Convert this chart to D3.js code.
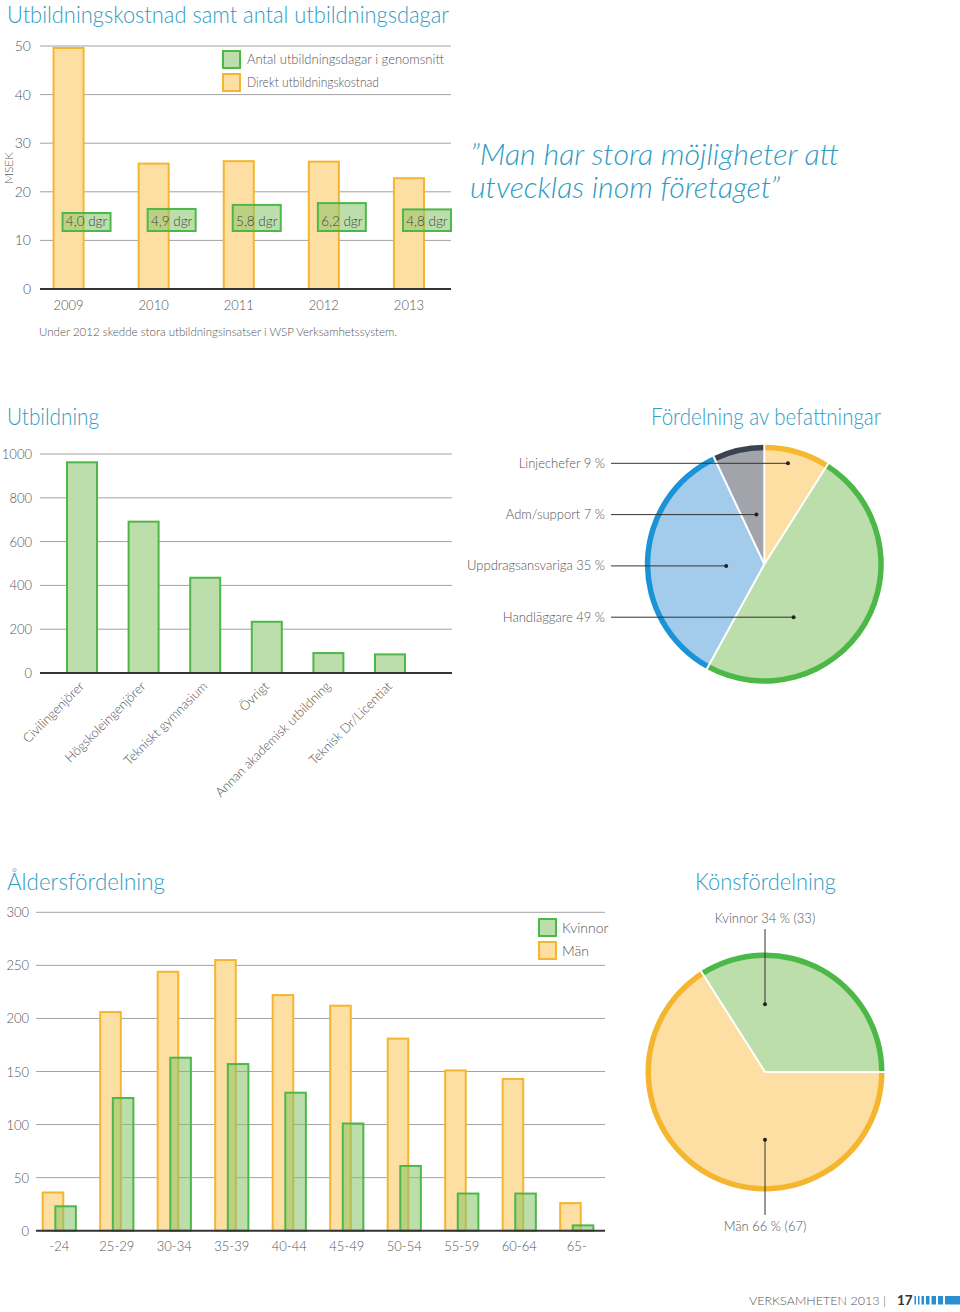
<!DOCTYPE html>
<html><head><meta charset="utf-8">
<script src="https://cdn.jsdelivr.net/npm/d3@7"></script>
<style>
body{margin:0;background:#fff;}
svg text{font-family:Lato,"Open Sans",sans-serif;font-weight:300;}
</style></head><body>
<svg id="c" width="960" height="1312"></svg>
<script>
// ---------- DATA ----------
const years = ["2009","2010","2011","2012","2013"];
const costMSEK = [49.6, 25.8, 26.3, 26.2, 22.8];
const trainingDays = [4.0, 4.9, 5.8, 6.2, 4.8];
const dayLabels = ["4,0 dgr","4,9 dgr","5,8 dgr","6,2 dgr","4,8 dgr"];
const costTicks = [0,10,20,30,40,50];
const costLegend = ["Antal utbildningsdagar i genomsnitt","Direkt utbildningskostnad"];

const eduCategories = ["Civilingenjörer","Högskoleingenjörer","Tekniskt gymnasium","Övrigt","Annan akademisk utbildning","Teknisk Dr/Licentiat"];
const eduValues = [962, 691, 435, 234, 91, 85];
const eduTicks = [0,200,400,600,800,1000];

const roles = ["Linjechefer","Handläggare","Uppdragsansvariga","Adm/support"];
const rolePct = [9,49,35,7];
const roleLabelOrder = ["Linjechefer","Adm/support","Uppdragsansvariga","Handläggare"];

const ageGroups = ["-24","25-29","30-34","35-39","40-44","45-49","50-54","55-59","60-64","65-"];
const ageMen = [36,206,244,255,222,212,181,151,143,26];
const ageWomen = [23,125,163,157,130,101,61,35,35,5];
const ageTicks = [0,50,100,150,200,250,300];
const ageLegend = ["Kvinnor","Män"];

const genders = ["Män","Kvinnor"];
const genderPct = [66,34];
const genderPrev = [67,33];

// ---------- STYLE ----------
const teal = "#2f9cc3", txt = "#555", gridC = "#a3a3a3", dark = "#333";
const orFill = "#fedfa3", orStroke = "#f4b52f";
const grFillT = "rgba(133,195,104,0.55)", grStroke = "#4cb848";

const svg = d3.select("#c");

function fitText(sel, w){ sel.attr("textLength", w).attr("lengthAdjust","spacingAndGlyphs"); return sel; }
function title(x,y,s,w,anchor){
  const t = svg.append("text").attr("x",x).attr("y",y).attr("fill",teal).attr("font-size",24).attr("text-anchor",anchor||"start").text(s);
  fitText(t,w); return t;
}

// ---------- CHART 1 ----------
title(7,23,"Utbildningskostnad samt antal utbildningsdagar",442);
const g1 = svg.append("g");
const y1 = d3.scaleLinear().domain([0,50]).range([289,46]);
const x1 = d3.scaleBand().domain(years).range([26,451.5]).paddingInner(0.647).paddingOuter(0.3235);
const yD = d3.scaleLinear().domain([0,10]).range([231,186]);
g1.selectAll("line.g").data(costTicks.filter(t=>t>0)).join("line")
  .attr("x1",40).attr("x2",451).attr("y1",d=>y1(d)).attr("y2",d=>y1(d)).attr("stroke",gridC).attr("stroke-width",1);
g1.selectAll("text.t").data(costTicks).join("text")
  .attr("x",31).attr("y",d=>y1(d)+5).attr("text-anchor","end").attr("font-size",14).attr("fill",txt).text(d=>d);
g1.selectAll("rect.c").data(years).join("rect")
  .attr("x",d=>x1(d)).attr("width",x1.bandwidth())
  .attr("y",(d,i)=>y1(costMSEK[i])).attr("height",(d,i)=>y1(0)-y1(costMSEK[i]))
  .attr("fill",orFill).attr("stroke",orStroke).attr("stroke-width",2);
g1.append("line").attr("x1",40).attr("x2",451).attr("y1",y1(0)).attr("y2",y1(0)).attr("stroke",dark).attr("stroke-width",2);
g1.selectAll("rect.d").data(years).join("rect")
  .attr("x",d=>x1(d)+x1.bandwidth()/2-6).attr("width",48)
  .attr("y",(d,i)=>yD(trainingDays[i])).attr("height",(d,i)=>yD(0)-yD(trainingDays[i]))
  .attr("fill",grFillT).attr("stroke",grStroke).attr("stroke-width",2);
g1.selectAll("text.dl").data(years).join("text")
  .attr("x",d=>x1(d)+x1.bandwidth()/2+18).attr("y",226).attr("text-anchor","middle")
  .attr("font-size",13.5).attr("fill","#444").text((d,i)=>dayLabels[i]);
g1.selectAll("text.yr").data(years).join("text")
  .attr("x",d=>x1(d)+x1.bandwidth()/2).attr("y",310).attr("text-anchor","middle")
  .attr("font-size",13).attr("fill",txt).text(d=>d);
g1.append("text").attr("transform","translate(13,168) rotate(-90)").attr("text-anchor","middle")
  .attr("font-size",12).attr("fill",txt).text("MSEK");
[grStroke,orStroke].forEach((c,i)=>{
  g1.append("rect").attr("x",223).attr("y",51+i*23).attr("width",17).attr("height",17)
    .attr("fill",i?orFill:"#bcdeab").attr("stroke",c).attr("stroke-width",2);
  fitText(g1.append("text").attr("x",247).attr("y",64+i*23).attr("font-size",13).attr("fill",txt).text(costLegend[i]), i?132:197);
});
fitText(g1.append("text").attr("x",39).attr("y",336).attr("font-size",12).attr("fill",txt)
  .text("Under 2012 skedde stora utbildningsinsatser i WSP Verksamhetssystem."),358);

// quote
fitText(svg.append("text").attr("x",470).attr("y",165).attr("font-size",30).attr("font-style","italic").attr("fill",teal)
  .text("\u201DMan har stora möjligheter att"),369);
fitText(svg.append("text").attr("x",470).attr("y",198).attr("font-size",30).attr("font-style","italic").attr("fill",teal)
  .text("utvecklas inom företaget\u201D"),310);

// ---------- CHART 2 ----------
title(7,425,"Utbildning",92);
const g2 = svg.append("g");
const y2 = d3.scaleLinear().domain([0,1000]).range([673,454]);
const x2 = d3.scaleBand().domain(eduCategories).range([51.2,420.8]).paddingInner(0.513).paddingOuter(0.2565);
g2.selectAll("line.g").data(eduTicks.filter(t=>t>0)).join("line")
  .attr("x1",40).attr("x2",452).attr("y1",d=>y2(d)).attr("y2",d=>y2(d)).attr("stroke",gridC);
g2.selectAll("text.t").data(eduTicks).join("text")
  .attr("x",32).attr("y",d=>y2(d)+5).attr("text-anchor","end").attr("font-size",13).attr("fill",txt).text(d=>d);
g2.selectAll("rect").data(eduCategories).join("rect")
  .attr("x",d=>x2(d)).attr("width",x2.bandwidth())
  .attr("y",(d,i)=>y2(eduValues[i])).attr("height",(d,i)=>y2(0)-y2(eduValues[i]))
  .attr("fill","#bcdeab").attr("stroke",grStroke).attr("stroke-width",2);
g2.append("line").attr("x1",40).attr("x2",452).attr("y1",y2(0)).attr("y2",y2(0)).attr("stroke",dark).attr("stroke-width",2);
g2.selectAll("text.l").data(eduCategories).join("text")
  .attr("transform",d=>`translate(${x2(d)+x2.bandwidth()/2+3},${687}) rotate(-45)`)
  .attr("text-anchor","end").attr("font-size",13).attr("fill",txt).text(d=>d);

// ---------- PIE 1 ----------
title(881,425,"Fördelning av befattningar",230,"end");
const cx1 = 764.3, cy1 = 564.3, Rf = 114, Rr = 119.5;
const roleFill = ["#fedfa3","#bcdeab","#a3cbeb","#a1a4ab"];
const roleRing = ["#f6b82e","#4cb848","#1a94d6","#3c4350"];
const pie1 = d3.pie().sort(null).value(d=>d)(rolePct);
const gp1 = svg.append("g").attr("transform",`translate(${cx1},${cy1})`);
gp1.selectAll("path.r").data(pie1).join("path").attr("d",d3.arc().innerRadius(Rf-1).outerRadius(Rr)).attr("fill",(d,i)=>roleRing[i]);
gp1.selectAll("path.f").data(pie1).join("path").attr("d",d3.arc().innerRadius(0).outerRadius(Rf)).attr("fill",(d,i)=>roleFill[i]);
gp1.selectAll("line.s").data(pie1).join("line")
  .attr("x1",0).attr("y1",0).attr("x2",d=>Math.sin(d.startAngle)*(Rr+1)).attr("y2",d=>-Math.cos(d.startAngle)*(Rr+1))
  .attr("stroke","#fff").attr("stroke-width",2);
function chordMid(a0,a1,dy,R){
  let mn=Infinity,mx=-Infinity;
  for(let x=-R;x<=R;x+=0.5){
    if(x*x+dy*dy>R*R) continue;
    let a=Math.atan2(x,-dy); if(a<0)a+=2*Math.PI;
    if(a>=a0&&a<=a1){mn=Math.min(mn,x);mx=Math.max(mx,x);}
  }
  return mn + (mx-mn)*(Math.abs(mn)>Math.abs(mx)?0.67:0.45);
}
roleLabelOrder.forEach((name,k)=>{
  const i = roles.indexOf(name), d = pie1[i];
  const ly = -101 + k*51.3;
  const dx = chordMid(d.startAngle,d.endAngle,ly,Rf);
  gp1.append("line").attr("x1",611-cx1).attr("x2",dx).attr("y1",ly).attr("y2",ly).attr("stroke",dark).attr("stroke-width",1);
  gp1.append("circle").attr("cx",dx).attr("cy",ly).attr("r",2).attr("fill","#222");
  gp1.append("text").attr("x",605-cx1).attr("y",ly+4.5).attr("text-anchor","end").attr("font-size",13).attr("fill",txt)
    .text(`${name} ${rolePct[i]} %`);
});

// ---------- CHART 3 ----------
title(7,890,"Åldersfördelning",158);
const g3 = svg.append("g");
const y3 = d3.scaleLinear().domain([0,300]).range([1230.7,912.3]);
const x3 = d3.scaleBand().domain(ageGroups).range([30.55,605.5]).paddingInner(0.423).paddingOuter(0.2115);
const bw3 = x3.bandwidth()*0.62;
g3.selectAll("line.g").data(ageTicks.filter(t=>t>0)).join("line")
  .attr("x1",36).attr("x2",605).attr("y1",d=>y3(d)).attr("y2",d=>y3(d)).attr("stroke",gridC);
g3.selectAll("text.t").data(ageTicks).join("text")
  .attr("x",29).attr("y",d=>y3(d)+5).attr("text-anchor","end").attr("font-size",13).attr("fill",txt).text(d=>d);
g3.selectAll("rect.m").data(ageGroups).join("rect")
  .attr("x",d=>x3(d)).attr("width",bw3)
  .attr("y",(d,i)=>y3(ageMen[i])).attr("height",(d,i)=>y3(0)-y3(ageMen[i]))
  .attr("fill",orFill).attr("stroke",orStroke).attr("stroke-width",2);
g3.selectAll("rect.w").data(ageGroups).join("rect")
  .attr("x",d=>x3(d)+x3.bandwidth()-bw3).attr("width",bw3)
  .attr("y",(d,i)=>y3(ageWomen[i])).attr("height",(d,i)=>y3(0)-y3(ageWomen[i]))
  .attr("fill",grFillT).attr("stroke",grStroke).attr("stroke-width",2);
g3.append("line").attr("x1",36).attr("x2",605).attr("y1",y3(0)).attr("y2",y3(0)).attr("stroke",dark).attr("stroke-width",2);
g3.selectAll("text.l").data(ageGroups).join("text")
  .attr("x",d=>x3(d)+x3.bandwidth()/2).attr("y",1251).attr("text-anchor","middle").attr("font-size",13).attr("fill",txt).text(d=>d);
[grStroke,orStroke].forEach((c,i)=>{
  g3.append("rect").attr("x",539).attr("y",919+i*23).attr("width",17).attr("height",17)
    .attr("fill",i?orFill:"#bcdeab").attr("stroke",c).attr("stroke-width",2);
  g3.append("text").attr("x",562).attr("y",933+i*23).attr("font-size",14).attr("fill",txt).text(ageLegend[i]);
});

// ---------- PIE 2 ----------
title(765.5,890,"Könsfördelning",141,"middle");
const cx2 = 765, cy2 = 1072;
const gFill = ["#fedfa3","#bcdeab"], gRing = ["#f4b52f","#4cb848"];
const pie2 = d3.pie().sort(null).value(d=>d).startAngle(Math.PI/2).endAngle(Math.PI/2+2*Math.PI)(genderPct);
const gp2 = svg.append("g").attr("transform",`translate(${cx2},${cy2})`);
gp2.selectAll("path.r").data(pie2).join("path").attr("d",d3.arc().innerRadius(Rf-1).outerRadius(Rr)).attr("fill",(d,i)=>gRing[i]);
gp2.selectAll("path.f").data(pie2).join("path").attr("d",d3.arc().innerRadius(0).outerRadius(Rf)).attr("fill",(d,i)=>gFill[i]);
gp2.selectAll("line.s").data(pie2).join("line")
  .attr("x1",0).attr("y1",0).attr("x2",d=>Math.sin(d.startAngle)*(Rr+1)).attr("y2",d=>-Math.cos(d.startAngle)*(Rr+1))
  .attr("stroke","#fff").attr("stroke-width",2);
const kv = genders.indexOf("Kvinnor"), ma = genders.indexOf("Män");
const dotR = Rf*0.595;
gp2.append("line").attr("x1",0).attr("x2",0).attr("y1",-143).attr("y2",-dotR).attr("stroke",dark);
gp2.append("circle").attr("cx",0).attr("cy",-dotR).attr("r",2).attr("fill","#222");
gp2.append("text").attr("x",0).attr("y",-149).attr("text-anchor","middle").attr("font-size",13).attr("fill",txt)
  .text(`${genders[kv]} ${genderPct[kv]} % (${genderPrev[kv]})`);
gp2.append("line").attr("x1",0).attr("x2",0).attr("y1",dotR).attr("y2",143).attr("stroke",dark);
gp2.append("circle").attr("cx",0).attr("cy",dotR).attr("r",2).attr("fill","#222");
gp2.append("text").attr("x",0).attr("y",159).attr("text-anchor","middle").attr("font-size",13).attr("fill",txt)
  .text(`${genders[ma]} ${genderPct[ma]} % (${genderPrev[ma]})`);

// ---------- FOOTER ----------
const ft = svg.append("text").attr("x",749).attr("y",1305).attr("font-size",14).attr("fill",txt).text("VERKSAMHETEN 2013 |");
const ftLen = ft.node().getComputedTextLength();
ft.attr("font-size", 14*Math.min(1,137/ftLen));
svg.append("text").attr("x",897).attr("y",1305).attr("font-size",13.5).style("font-weight",700).attr("fill","#333").text("17");
const stripeW = [1.5,1.5,2.5,3.5,4.5,5];
let sx = 914.5;
stripeW.forEach(w=>{ svg.append("rect").attr("x",sx).attr("y",1296).attr("width",w).attr("height",8.5).attr("fill","#2a8fd0"); sx += w+2; });
svg.append("rect").attr("x",sx).attr("y",1296).attr("width",960-sx).attr("height",8.5).attr("fill","#2a8fd0");
</script>
</body></html>
